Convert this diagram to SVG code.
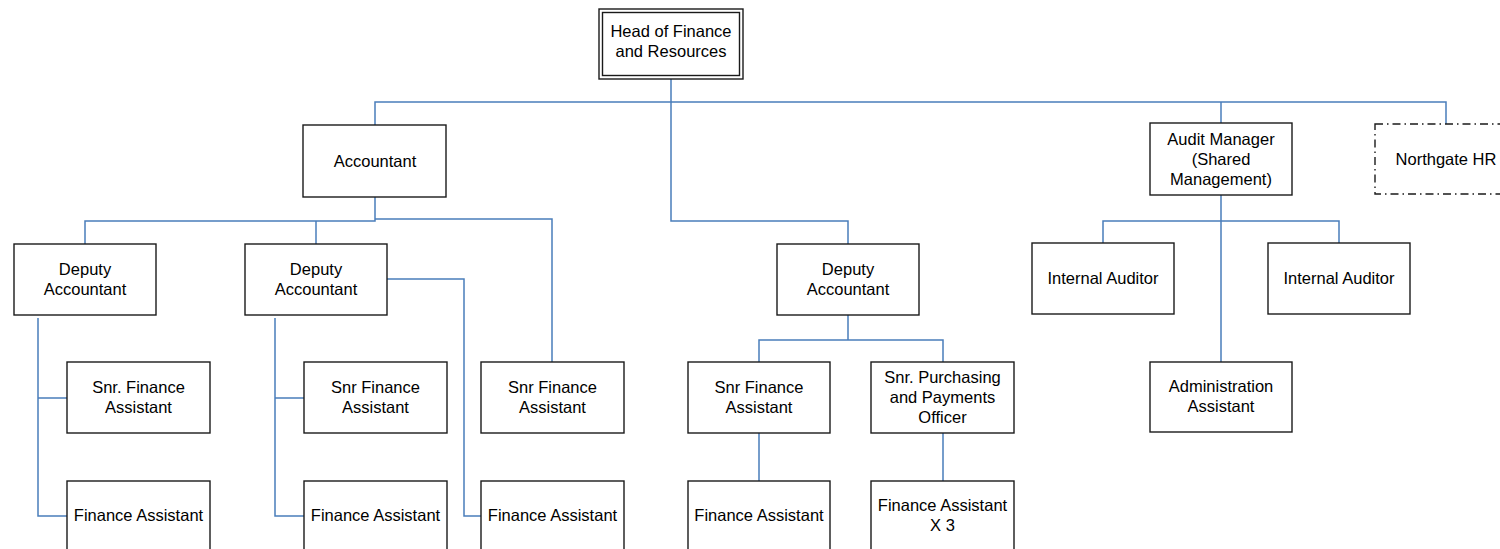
<svg xmlns="http://www.w3.org/2000/svg" width="1500" height="549" viewBox="0 0 1500 549">
<style>
.box{fill:#fff;stroke:#1a1a1a;stroke-width:1.4}
.dash{fill:#fff;stroke:#1a1a1a;stroke-width:1.4;stroke-dasharray:8,4,1.5,4}
.t{font-family:"Liberation Sans",Arial,sans-serif;font-size:16.5px;fill:#000;text-anchor:middle}
.c{fill:none;stroke:#4a7ebb;stroke-width:1.5}
</style>
<rect width="1500" height="549" fill="#fff"/>
<g id="connectors">
<path class="c" d="M671,79 V221 H848 V244"/>
<path class="c" d="M375,125 V102 H1446 V124"/>
<path class="c" d="M1221,102 V123"/>
<path class="c" d="M375,197 V221 H85 V244"/>
<path class="c" d="M316,221 V244"/>
<path class="c" d="M375,219 H552 V362"/>
<path class="c" d="M38,318 V516 H67 M38,398 H67"/>
<path class="c" d="M275,318 V516 H304 M275,398 H304"/>
<path class="c" d="M387,279 H464 V516 H481"/>
<path class="c" d="M848,315 V340 M759,362 V340 H943 V362"/>
<path class="c" d="M759,433 V481 M943,433 V481"/>
<path class="c" d="M1221,195 V362 M1103,243 V221 H1339 V243"/>
</g>
<g id="head">
<rect class="box" x="599" y="9" width="144" height="70"/>
<rect class="box" x="602.5" y="12.5" width="137" height="63"/>
<text class="t" x="671" y="37">Head of Finance</text>
<text class="t" x="671" y="57">and Resources</text>
</g>
<g id="accountant">
<rect class="box" x="303" y="125" width="143" height="72"/>
<text class="t" x="375" y="167">Accountant</text>
</g>
<g id="audit-manager">
<rect class="box" x="1150" y="123" width="142" height="72"/>
<text class="t" x="1221" y="145">Audit Manager</text>
<text class="t" x="1221" y="165">(Shared</text>
<text class="t" x="1221" y="185">Management)</text>
</g>
<g id="northgate-hr">
<rect class="dash" x="1375" y="124" width="143" height="70"/>
<text class="t" x="1446" y="165">Northgate HR</text>
</g>
<g id="deputy-1">
<rect class="box" x="14" y="244" width="142" height="71"/>
<text class="t" x="85" y="275">Deputy</text>
<text class="t" x="85" y="295">Accountant</text>
</g>
<g id="deputy-2">
<rect class="box" x="245" y="244" width="142" height="71"/>
<text class="t" x="316" y="275">Deputy</text>
<text class="t" x="316" y="295">Accountant</text>
</g>
<g id="deputy-3">
<rect class="box" x="777" y="244" width="142" height="71"/>
<text class="t" x="848" y="275">Deputy</text>
<text class="t" x="848" y="295">Accountant</text>
</g>
<g id="internal-auditor-1">
<rect class="box" x="1032" y="243" width="142" height="71"/>
<text class="t" x="1103" y="284">Internal Auditor</text>
</g>
<g id="internal-auditor-2">
<rect class="box" x="1268" y="243" width="142" height="71"/>
<text class="t" x="1339" y="284">Internal Auditor</text>
</g>
<g id="snr-fa-1">
<rect class="box" x="67" y="362" width="143" height="71"/>
<text class="t" x="138.5" y="393">Snr. Finance</text>
<text class="t" x="138.5" y="413">Assistant</text>
</g>
<g id="snr-fa-2">
<rect class="box" x="304" y="362" width="143" height="71"/>
<text class="t" x="375.5" y="393">Snr Finance</text>
<text class="t" x="375.5" y="413">Assistant</text>
</g>
<g id="snr-fa-3">
<rect class="box" x="481" y="362" width="143" height="71"/>
<text class="t" x="552.5" y="393">Snr Finance</text>
<text class="t" x="552.5" y="413">Assistant</text>
</g>
<g id="snr-fa-4">
<rect class="box" x="688" y="362" width="142" height="71"/>
<text class="t" x="759" y="393">Snr Finance</text>
<text class="t" x="759" y="413">Assistant</text>
</g>
<g id="snr-purchasing">
<rect class="box" x="871" y="362" width="143" height="71"/>
<text class="t" x="942.5" y="383">Snr. Purchasing</text>
<text class="t" x="942.5" y="403">and Payments</text>
<text class="t" x="942.5" y="423">Officer</text>
</g>
<g id="admin-assistant">
<rect class="box" x="1150" y="362" width="142" height="70"/>
<text class="t" x="1221" y="392">Administration</text>
<text class="t" x="1221" y="412">Assistant</text>
</g>
<g id="fa-1">
<rect class="box" x="67" y="481" width="143" height="72"/>
<text class="t" x="138.5" y="521">Finance Assistant</text>
</g>
<g id="fa-2">
<rect class="box" x="304" y="481" width="143" height="72"/>
<text class="t" x="375.5" y="521">Finance Assistant</text>
</g>
<g id="fa-3">
<rect class="box" x="481" y="481" width="143" height="72"/>
<text class="t" x="552.5" y="521">Finance Assistant</text>
</g>
<g id="fa-4">
<rect class="box" x="688" y="481" width="142" height="72"/>
<text class="t" x="759" y="521">Finance Assistant</text>
</g>
<g id="fa-x3">
<rect class="box" x="871" y="481" width="143" height="72"/>
<text class="t" x="942.5" y="511">Finance Assistant</text>
<text class="t" x="942.5" y="531">X 3</text>
</g>
</svg>
